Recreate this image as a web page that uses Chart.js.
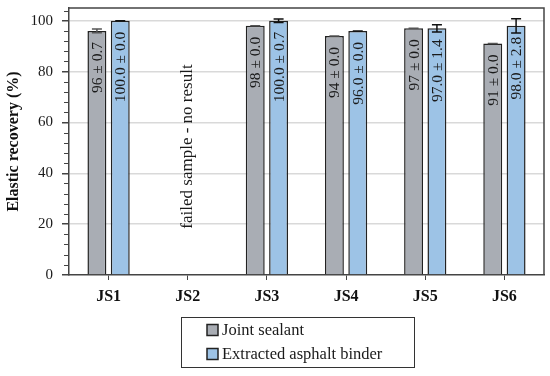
<!DOCTYPE html>
<html>
<head>
<meta charset="utf-8">
<title>Elastic recovery</title>
<script src="https://cdn.jsdelivr.net/npm/chart.js@4/dist/chart.umd.min.js"></script>
<style>
    body { margin: 0; background: #fff; }
    canvas { display: block; }
</style>
</head>
<body>
<canvas id="chart" width="550" height="376"></canvas>
<script>
// ── Data ──
const categories = ['JS1', 'JS2', 'JS3', 'JS4', 'JS5', 'JS6'];
const sealantValues = [96, 0, 98, 94, 97, 91];
const sealantErrors = [0.7, 0, 0.0, 0.0, 0.0, 0.0];
const binderValues = [100, 0, 100, 96, 97, 98];
const binderErrors = [0.0, 0, 0.7, 0.0, 1.4, 2.8];
const noResult = [false, true, false, false, false, false];
const noResultText = 'failed sample - no result';
const yTicks = [0, 20, 40, 60, 80, 100];
const yMinorStep = 4;

const SERIF = '"Liberation Serif", "Times New Roman", serif';
const AXIS = '#444';

// ── Extras drawn on top: frame, minor ticks, error bars, labels, legend ──
const extrasPlugin = {
    id: 'extras',
    afterDatasetsDraw(chart) {
        const ctx = chart.ctx;
        const area = chart.chartArea;
        const y = chart.scales.y;
        const x = chart.scales.x;

        ctx.save();

        // frame top/right
        ctx.strokeStyle = AXIS;
        ctx.lineWidth = 1.5;
        ctx.beginPath();
        ctx.moveTo(area.left, area.top);
        ctx.lineTo(area.right, area.top);
        ctx.lineTo(area.right, area.bottom);
        ctx.stroke();

        // minor ticks on y
        ctx.lineWidth = 1;
        for (let v = yMinorStep; v < y.max; v += yMinorStep) {
            if (v % 20 === 0) continue;
            const py = Math.round(y.getPixelForValue(v)) + 0.5;
            ctx.beginPath();
            ctx.moveTo(area.left - 5, py);
            ctx.lineTo(area.left, py);
            ctx.stroke();
        }

        // error bars + value labels
        chart.data.datasets.forEach((ds, di) => {
            const meta = chart.getDatasetMeta(di);
            meta.data.forEach((bar, i) => {
                if (noResult[i]) return;
                const v = ds.data[i];
                const e = ds.errors[i];
                const top = y.getPixelForValue(v + e);
                const bot = y.getPixelForValue(v - e);
                ctx.strokeStyle = ds.errorColor;
                ctx.lineWidth = 1.5;
                ctx.beginPath();
                ctx.moveTo(bar.x, top);
                ctx.lineTo(bar.x, bot);
                ctx.moveTo(bar.x - 5, top);
                ctx.lineTo(bar.x + 5, top);
                ctx.moveTo(bar.x - 5, bot);
                ctx.lineTo(bar.x + 5, bot);
                ctx.stroke();

                const label = v.toFixed(ds.decimals) + ' \u00b1 ' + e.toFixed(1);
                ctx.save();
                ctx.translate(bar.x, bar.y + 11);
                ctx.rotate(-Math.PI / 2);
                ctx.fillStyle = '#1a1a1a';
                ctx.font = '15.5px ' + SERIF;
                ctx.textAlign = 'right';
                ctx.textBaseline = 'middle';
                ctx.fillText(label, 0, 1);
                ctx.restore();
            });
        });

        // no result note
        noResult.forEach((flag, i) => {
            if (!flag) return;
            ctx.save();
            ctx.translate(x.getPixelForValue(i), (area.top + area.bottom) / 2 + 5);
            ctx.rotate(-Math.PI / 2);
            ctx.fillStyle = '#1a1a1a';
            ctx.font = '17px ' + SERIF;
            ctx.textAlign = 'center';
            ctx.textBaseline = 'middle';
            ctx.fillText(noResultText, 0, 0);
            ctx.restore();
        });

        ctx.restore();
    },
    afterDraw(chart) {
        // boxed legend below the axis
        const ctx = chart.ctx;
        const box = { left: 181.5, top: 317.5, width: 233, height: 50 };
        ctx.save();
        ctx.strokeStyle = '#333';
        ctx.lineWidth = 1;
        ctx.strokeRect(box.left, box.top, box.width, box.height);
        ctx.font = '16.5px ' + SERIF;
        ctx.textBaseline = 'middle';
        chart.data.datasets.forEach((ds, di) => {
            const cy = 330 + di * 24;
            ctx.fillStyle = ds.backgroundColor;
            ctx.fillRect(207, cy - 5.5, 11, 11);
            ctx.strokeStyle = '#222';
            ctx.lineWidth = 1.5;
            ctx.strokeRect(207, cy - 5.5, 11, 11);
            ctx.fillStyle = '#1a1a1a';
            ctx.fillText(ds.label, 222, cy + 1);
        });
        ctx.restore();
    }
};

// ── Chart ──
new Chart(document.getElementById('chart'), {
    type: 'bar',
    data: {
        labels: categories,
        datasets: [{
            label: 'Joint sealant',
            data: sealantValues,
            errors: sealantErrors,
            decimals: 0,
            errorColor: '#555',
            backgroundColor: '#a9adb4',
            borderColor: '#222',
            borderWidth: 1.5,
            categoryPercentage: 0.59,
            barPercentage: 0.81,
        }, {
            label: 'Extracted asphalt binder',
            data: binderValues,
            errors: binderErrors,
            decimals: 1,
            errorColor: '#111',
            backgroundColor: '#9dc3e6',
            borderColor: '#222',
            borderWidth: 1.5,
            categoryPercentage: 0.59,
            barPercentage: 0.81,
        }],
    },
    options: {
        responsive: false,
        animation: false,
        layout: { padding: { top: 8, right: 6, left: 0, bottom: 0 } },
        plugins: {
            legend: { display: false },
            tooltip: { enabled: false },
        },
        scales: {
            x: {
                grid: {
                    display: true,
                    drawOnChartArea: false,
                    offset: false,
                    tickLength: 5,
                    tickColor: AXIS,
                    lineWidth: 1,
                },
                border: { color: AXIS, width: 1.5 },
                ticks: {
                    color: '#111',
                    padding: 7,
                    font: { family: SERIF, size: 16, weight: 'bold' },
                },
                afterFit(scale) { scale.height = 101; },
            },
            y: {
                min: 0,
                max: 105,
                afterBuildTicks(scale) {
                    scale.ticks = yTicks.map(v => ({ value: v }));
                },
                grid: {
                    color: ctx => ctx.tick && ctx.tick.value > 0 ? '#d9d9d9' : 'rgba(0,0,0,0)',
                    lineWidth: 1.5,
                    tickLength: 7,
                    tickColor: AXIS,
                },
                border: { color: AXIS, width: 1.5 },
                ticks: {
                    color: '#1a1a1a',
                    padding: 9,
                    font: { family: SERIF, size: 15 },
                },
                title: {
                    display: true,
                    text: 'Elastic recovery (%)',
                    color: '#111',
                    padding: { top: 4, bottom: 4 },
                    font: { family: SERIF, size: 16, weight: 'bold' },
                },
                afterFit(scale) {
                    scale.width = 69;
                    scale.paddingTop = 0;
                    scale.paddingBottom = 0;
                },
            },
        },
    },
    plugins: [extrasPlugin],
});
</script>
</body>
</html>
